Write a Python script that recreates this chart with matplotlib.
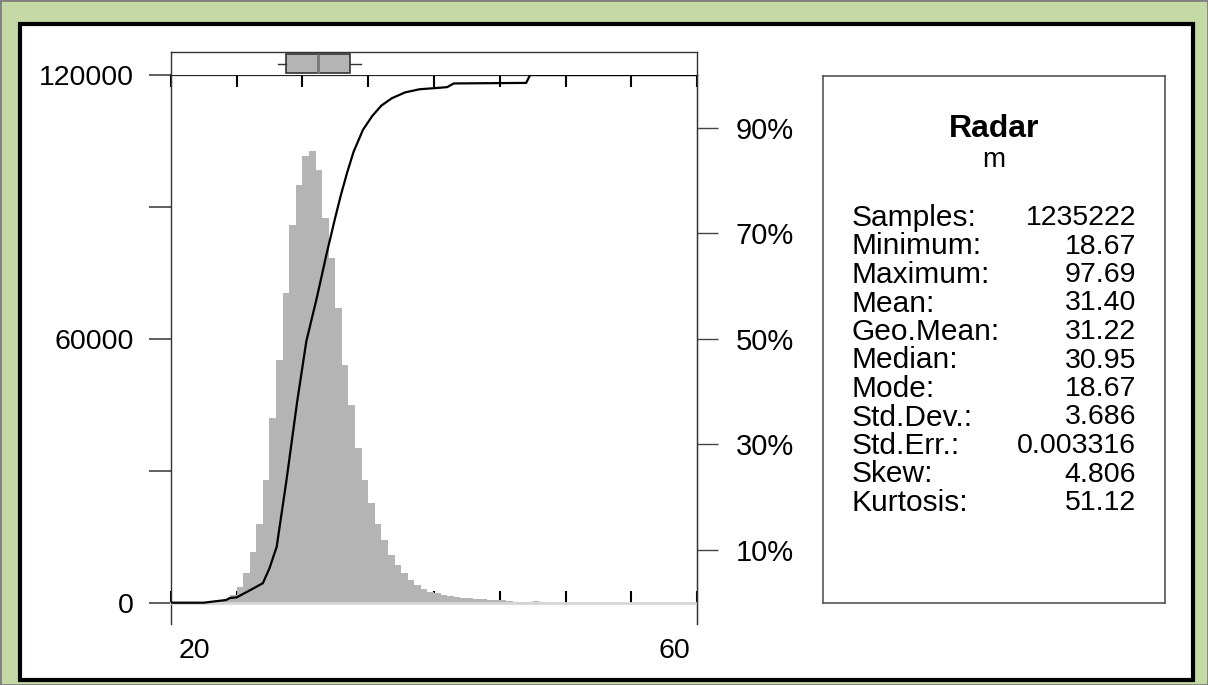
import matplotlib
matplotlib.use('Agg')
import matplotlib.pyplot as plt
from matplotlib.patches import Rectangle
from matplotlib.transforms import offset_copy
import numpy as np

plt.rcParams['font.family'] = ['Liberation Sans', 'DejaVu Sans']

# histogram: left edge of each 0.5 wide bin and its count
bin_left = np.arange(23.0, 48.5, 0.5)
counts = [150, 400, 900, 1800, 3500, 6700, 11600, 18000, 27900, 41900,
          55200, 70400, 85900, 95000, 101600, 102800, 98400, 87400, 78300, 67000,
          54000, 45000, 35100, 27900, 22600, 18000, 14300, 10900, 8600, 6700,
          5200, 4000, 3100, 2500, 2100, 1800, 1500, 1400, 1100, 1000,
          900, 800, 700, 650, 600, 500, 250, 150, 100, 400, 100]

# cumulative curve (percent)
cdf_x = [20, 22.5, 23.5, 24.2, 24.5, 25.0, 25.6, 26.2, 27.0, 27.5, 28.05, 28.8,
         29.6, 30.3, 31.1, 31.85, 32.5, 32.9, 33.4, 33.9, 34.6, 35.3, 36.0,
         36.8, 37.8, 38.9, 40.0, 41.0, 41.5, 47.0, 47.3, 60]
cdf_pct = [0, 0, 0.3, 0.5, 0.9, 1.0, 1.8, 2.6, 3.7, 6.5, 10.6, 23.3,
           38.0, 49.5, 57.8, 66.2, 73.0, 77.0, 81.5, 85.5, 89.6, 92.2, 94.2,
           95.6, 96.7, 97.3, 97.5, 97.7, 98.4, 98.5, 100, 100]

# box plot on top strip
box_stats = {'med': 31.2, 'q1': 28.73, 'q3': 33.62,
             'whislo': 28.13, 'whishi': 34.43, 'fliers': []}

y_ticks = [0, 30000, 60000, 90000, 120000]
y_labels = ['0', '', '60000', '', '120000']
x_ticks = [20, 25, 30, 35, 40, 45, 50, 55, 60]
pct_ticks = [10, 30, 50, 70, 90]

title = 'Radar'
unit = 'm'
stat_names = ['Samples:', 'Minimum:', 'Maximum:', 'Mean:', 'Geo.Mean:', 'Median:',
              'Mode:', 'Std.Dev.:', 'Std.Err.:', 'Skew:', 'Kurtosis:']
stat_values = ['1235222', '18.67', '97.69', '31.40', '31.22', '30.95',
               '18.67', '3.686', '0.003316', '4.806', '51.12']

W, H = 1208, 685


def fig_rect(x0, y0, x1, y1):
    # pixel box with top-left origin -> figure fraction
    return [x0 / W, (H - y1) / H, (x1 - x0) / W, (y1 - y0) / H]


fig = plt.figure(figsize=(W / 100, H / 100), dpi=100, facecolor='#c5d9a6')
fig.add_artist(Rectangle((20 / W, (H - 680) / H), (1193 - 20) / W, (680 - 24) / H,
                         transform=fig.transFigure, facecolor='white',
                         edgecolor='black', lw=3, zorder=-10))
fig.add_artist(Rectangle((0, 0), 1, 1, transform=fig.transFigure, fill=False,
                         edgecolor='#7f7f7f', lw=2, zorder=-9))

# main histogram axes
ax = fig.add_axes(fig_rect(170.7, 75, 697.3, 624))
ybot = -(624 - 602.7) / (602.7 - 75) * 120000
ax.set_xlim(20, 60)
ax.set_ylim(ybot, 120000)
ax.bar(bin_left, counts, width=0.5, align='edge', color='#b4b4b4', lw=0, zorder=2)

ax.spines['bottom'].set_position(('data', 0))
ax.spines['bottom'].set_color('#d6d6d6')
ax.spines['bottom'].set_linewidth(2)
ax.spines['top'].set_linewidth(1.6)
ax.spines['top'].set_color('#222222')
for s in ['left', 'right']:
    ax.spines[s].set_color('#333333')
    ax.spines[s].set_linewidth(1.0)

ax.set_yticks(y_ticks)
ax.set_yticklabels(y_labels, fontsize=20.5)
ax.tick_params(axis='y', direction='out', length=15.8, width=1.2,
               color='#444444', pad=11)
ax.set_xticks(x_ticks)
ax.set_xticklabels([])
ax.tick_params(axis='x', direction='in', length=8.3, width=1.5,
               color='black', top=True, bottom=True)

trans = ax.get_xaxis_transform()
ax.text(20, -0.05, '20', transform=offset_copy(trans, fig, x=8, y=0, units='dots'),
        ha='left', va='center', fontsize=20.5)
ax.text(60, -0.05, '60', transform=offset_copy(trans, fig, x=-7, y=0, units='dots'),
        ha='right', va='center', fontsize=20.5)

# cumulative percent on the right axis
ax2 = ax.twinx()
ax2.set_ylim(ybot / 1200, 100)
ax2.plot(cdf_x, cdf_pct, color='black', lw=1.6, zorder=3)
ax2.set_yticks(pct_ticks)
ax2.set_yticklabels(['{}%'.format(p) for p in pct_ticks], fontsize=21)
ax2.tick_params(axis='y', direction='out', length=15, width=1.0,
                color='#444444', pad=12.5)
for s in ['left', 'top', 'bottom']:
    ax2.spines[s].set_visible(False)
ax2.spines['right'].set_color('#333333')

# box plot strip
axb = fig.add_axes(fig_rect(170.7, 51.7, 697.3, 75))
axb.set_xlim(20, 60)
axb.set_ylim(0, 1)
axb.bxp([box_stats], positions=[0.49], widths=[0.83], orientation='horizontal',
        showfliers=False, showcaps=False, patch_artist=True, manage_ticks=False,
        boxprops=dict(facecolor='#b4b4b4', edgecolor='#333333', lw=1.2),
        medianprops=dict(color='#777777', lw=2),
        whiskerprops=dict(color='#333333', lw=1))
axb.set_xticks([])
axb.set_yticks([])
axb.spines['bottom'].set_visible(False)
for s in ['left', 'right', 'top']:
    axb.spines[s].set_color('#333333')
    axb.spines[s].set_linewidth(1.0)

# statistics panel
axs = fig.add_axes(fig_rect(823, 75.7, 1165, 602.7))
axs.set_xticks([])
axs.set_yticks([])
for s in axs.spines.values():
    s.set_color('#555555')
    s.set_linewidth(1.2)


def fy(py):
    return (602.7 - py) / (602.7 - 75.7)


axs.text(0.5, fy(129), title, ha='center', va='center', fontsize=23, fontweight='bold')
axs.text(0.5, fy(160), unit, ha='center', va='center', fontsize=20)
for i, (name, val) in enumerate(zip(stat_names, stat_values)):
    y = fy(218 + 28.5 * i)
    axs.text(0.084, y, name, ha='left', va='center', fontsize=21.5)
    axs.text(0.915, y, val, ha='right', va='center', fontsize=20.5)

fig.savefig('out.png', dpi=100, facecolor=fig.get_facecolor())
